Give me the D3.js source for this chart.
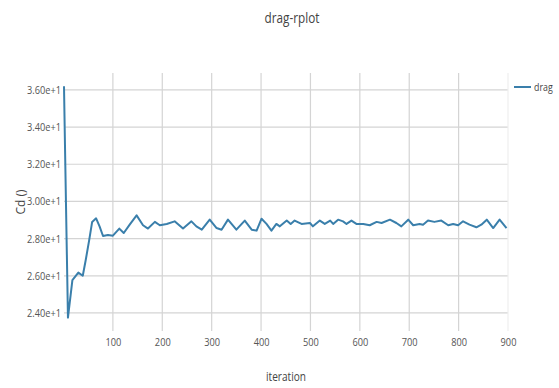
<!DOCTYPE html>
<html>
<head>
<meta charset="utf-8">
<script src="https://cdn.jsdelivr.net/npm/d3@7"></script>
<style>
  body { margin: 0; background: #fff; }
  text { font-family: "Open Sans", sans-serif; }
</style>
</head>
<body>
<div id="chart"></div>
<script>
// values
const iterations = [1, 3, 9, 18, 26, 30, 39, 45, 52, 58, 66, 73, 80, 90, 100, 113, 122, 134, 148, 161, 171,
  185, 195, 209, 225, 242, 259, 269, 280, 296, 310, 320, 333, 350, 367, 381, 391, 401, 411, 421, 431,
  438, 452, 460, 468, 482, 499, 505, 519, 529, 540, 546, 556, 566, 573, 583, 593, 607, 620, 634, 644,
  661, 674, 684, 698, 708, 721, 728, 738, 751, 765, 779, 789, 799, 809, 822, 836, 846, 857, 870, 883, 897];
const cd = [36.2, 33.0, 23.75, 25.77, 26.04, 26.17, 26.0, 26.85, 27.92, 28.9, 29.09, 28.66, 28.14, 28.2, 28.16,
  28.54, 28.3, 28.75, 29.25, 28.72, 28.54, 28.9, 28.72, 28.79, 28.93, 28.54, 28.93, 28.66, 28.48, 29.02,
  28.57, 28.48, 29.02, 28.48, 28.97, 28.48, 28.43, 29.07, 28.79, 28.43, 28.79, 28.66, 28.97, 28.79, 28.97,
  28.79, 28.84, 28.66, 28.97, 28.79, 28.97, 28.79, 29.02, 28.93, 28.79, 28.97, 28.79, 28.79, 28.72, 28.9,
  28.84, 29.02, 28.84, 28.66, 29.02, 28.72, 28.79, 28.75, 28.97, 28.9, 28.97, 28.72, 28.79, 28.72, 28.93,
  28.75, 28.61, 28.75, 29.02, 28.57, 29.02, 28.57];
const xTicks = [100, 200, 300, 400, 500, 600, 700, 800, 900];
const yTicks = [24, 26, 28, 30, 32, 34, 36];
const seriesName = 'drag';

const W = 559, H = 388;
const margin = { top: 73, right: 51, bottom: 57, left: 64 };
const width = W - margin.left - margin.right;
const height = H - margin.top - margin.bottom;
const squeeze = 0.84; // the reference text is narrow

// squeeze a text horizontally around its own x
function condense(sel) {
  sel.each(function () {
    const t = d3.select(this);
    const tx = +t.attr('x') || 0;
    const old = t.attr('transform') || '';
    t.attr('x', 0).attr('transform', `${old} translate(${tx},0) scale(${squeeze},1)`);
  });
}

const svg = d3.select('#chart')
  .append('svg')
  .attr('width', W)
  .attr('height', H);

svg.append('text')
  .attr('x', 292)
  .attr('y', 23)
  .attr('text-anchor', 'middle')
  .style('font-size', '14px')
  .style('fill', '#444')
  .text('drag-rplot')
  .call(condense);

const g = svg.append('g')
  .attr('transform', `translate(${margin.left},${margin.top})`);

const x = d3.scaleLinear().domain([1, 900]).range([0, width]);
const y = d3.scaleLinear().domain([23.03, 36.91]).range([height, 0]);

// grid
g.append('g')
  .selectAll('line')
  .data(yTicks)
  .enter()
  .append('line')
  .attr('x1', 0)
  .attr('x2', width)
  .attr('y1', d => y(d))
  .attr('y2', d => y(d))
  .style('stroke', '#d4d4d4')
  .style('stroke-width', 1.2);

g.append('g')
  .selectAll('line')
  .data(xTicks)
  .enter()
  .append('line')
  .attr('x1', d => x(d))
  .attr('x2', d => x(d))
  .attr('y1', 0)
  .attr('y2', height)
  .style('stroke', d => d === 900 ? '#eee' : '#d4d4d4')
  .style('stroke-width', 1.2);

// axes (labels only, like plotly)
const yAxis = g.append('g')
  .call(d3.axisLeft(y).tickValues(yTicks).tickFormat(d3.format('.2e')).tickSize(0).tickPadding(3));
const xAxis = g.append('g')
  .attr('transform', `translate(0, ${height})`)
  .call(d3.axisBottom(x).tickValues(xTicks).tickSize(0).tickPadding(7));
[yAxis, xAxis].forEach(a => {
  a.select('.domain').remove();
  a.selectAll('.tick text')
    .style('font-family', '"Open Sans", sans-serif')
    .style('font-size', '11px')
    .style('fill', '#555')
    .call(condense);
});

svg.append('text')
  .attr('x', 286)
  .attr('y', 381)
  .attr('text-anchor', 'middle')
  .style('font-size', '12px')
  .style('fill', '#444')
  .text('iteration')
  .call(condense);

svg.append('text')
  .attr('transform', 'rotate(-90)')
  .attr('x', -202)
  .attr('y', 25)
  .attr('text-anchor', 'middle')
  .style('font-size', '12px')
  .style('fill', '#444')
  .text('Cd ()');

const line = d3.line()
  .x((d, i) => x(iterations[i]))
  .y(d => y(d));

g.append('path')
  .datum(cd)
  .attr('d', line)
  .style('fill', 'none')
  .style('stroke', '#3a7fab')
  .style('stroke-width', 2)
  .style('stroke-linejoin', 'round');

// legend
const legend = svg.append('g').attr('transform', 'translate(514, 87)');
legend.append('line')
  .attr('x1', 0).attr('x2', 17)
  .style('stroke', '#3a7fab')
  .style('stroke-width', 2);
legend.append('text')
  .attr('x', 20)
  .attr('y', 4)
  .style('font-size', '10.5px')
  .style('fill', '#444')
  .text(seriesName)
  .call(condense);
</script>
</body>
</html>
